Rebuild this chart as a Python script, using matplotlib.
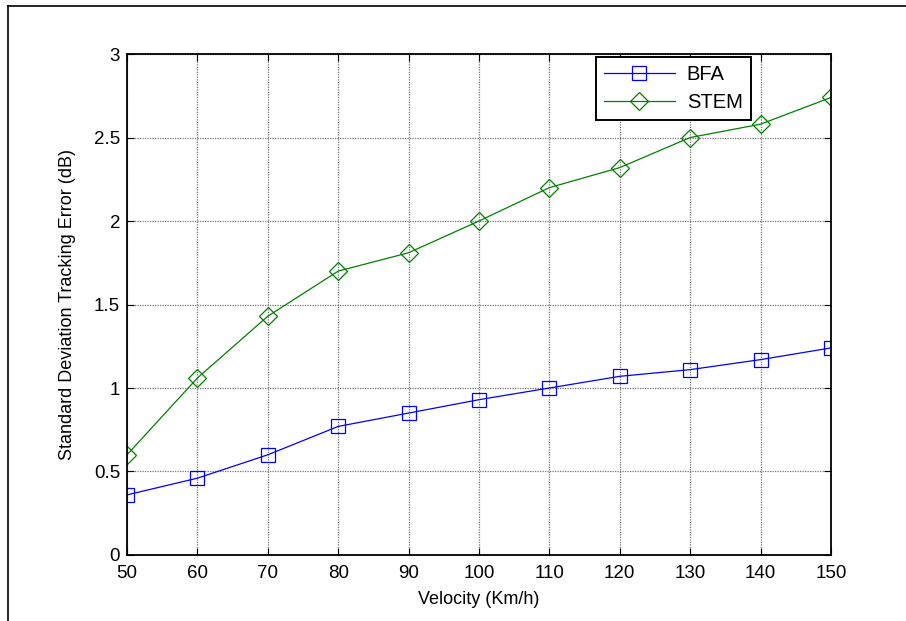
"""Standard deviation tracking error vs velocity (BFA vs STEM)."""

import matplotlib
matplotlib.use("Agg")
import matplotlib.pyplot as plt
from matplotlib.lines import Line2D

plt.rcParams["font.family"] = ["Liberation Sans", "DejaVu Sans"]

velocity = [50, 60, 70, 80, 90, 100, 110, 120, 130, 140, 150]
bfa = [0.36, 0.46, 0.60, 0.77, 0.85, 0.93, 1.00, 1.07, 1.11, 1.17, 1.24]
stem = [0.60, 1.06, 1.43, 1.70, 1.81, 2.00, 2.20, 2.32, 2.50, 2.58, 2.74]
x_ticks = [50, 60, 70, 80, 90, 100, 110, 120, 130, 140, 150]
y_ticks = [0, 0.5, 1, 1.5, 2, 2.5, 3]
y_tick_labels = ["0", "0.5", "1", "1.5", "2", "2.5", "3"]


def main() -> None:
    fig = plt.figure(figsize=(9.06, 6.21), dpi=100)
    ax = fig.add_axes([0.1402, 0.1063, 0.7770, 0.8067])

    ax.plot(velocity, bfa, color="#0000ff", lw=0.9, marker="s", markersize=9.5,
            markerfacecolor="none", markeredgewidth=0.9, label="BFA")
    ax.plot(velocity, stem, color="#008000", lw=0.9, marker="D", markersize=9,
            markerfacecolor="none", markeredgewidth=0.9, label="STEM")

    ax.set_xlim(50, 150)
    ax.set_ylim(0, 3)
    ax.set_xticks(x_ticks)
    ax.set_yticks(y_ticks)
    ax.set_yticklabels(y_tick_labels)
    ax.grid(True, color="#777777", linestyle=(0, (1, 1)), linewidth=0.9)
    ax.tick_params(direction="in", length=5, width=0.8, top=True, right=True,
                   labelsize=13.5)
    ax.tick_params(axis="x", pad=7)
    ax.tick_params(axis="y", pad=5)
    for sp in ax.spines.values():
        sp.set_linewidth(1.3)
        sp.set_clip_on(False)

    ax.set_xlabel("Velocity (Km/h)", fontsize=13, labelpad=7)
    ax.set_ylabel("Standard Deviation Tracking Error (dB)", fontsize=13, labelpad=13)

    leg = ax.legend(loc="upper right", bbox_to_anchor=(0.886, 0.994), fontsize=14.5,
                    fancybox=False, framealpha=1, edgecolor="black",
                    handlelength=3.5, borderpad=0.4, labelspacing=0.45,
                    handletextpad=0.6, borderaxespad=0)
    leg.get_frame().set_linewidth(1.4)

    # outer frame lines (left and top)
    fig.add_artist(Line2D([8 / 906, 8 / 906], [0, 1 - 6 / 621], color="black", lw=1.2))
    fig.add_artist(Line2D([8 / 906, 1], [1 - 6 / 621, 1 - 6 / 621], color="black", lw=1.2))

    fig.savefig("out.png", dpi=100)
    plt.close(fig)


if __name__ == "__main__":
    main()
